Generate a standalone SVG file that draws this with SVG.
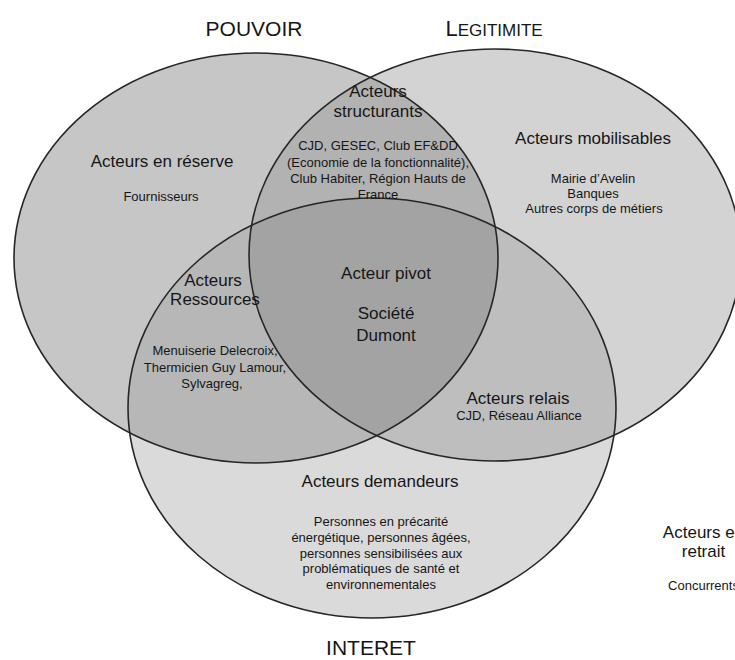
<svg xmlns="http://www.w3.org/2000/svg" xmlns:xlink="http://www.w3.org/1999/xlink" width="735" height="660" viewBox="0 0 735 660">
  <style>
    text { font-family: "Liberation Sans", Arial, sans-serif; fill: #161616; text-anchor: middle; }
    .head { font-size: 21px; }
    .lbl { font-size: 17px; }
    .sm { font-size: 13px; }
    .outline { fill: none; stroke: #262626; stroke-width: 1.6; }
  </style>
  <defs>
    <!-- the three sets -->
    <ellipse id="eL" cx="256" cy="258" rx="242" ry="205"/>
    <ellipse id="eR" cx="495" cy="255" rx="246" ry="206"/>
    <ellipse id="eB" cx="372" cy="408" rx="244" ry="210"/>
    <clipPath id="cL"><use xlink:href="#eL"/></clipPath>
    <clipPath id="cR"><use xlink:href="#eR"/></clipPath>
    <clipPath id="cB"><use xlink:href="#eB"/></clipPath>
  </defs>

  <rect width="735" height="660" fill="#ffffff"/>

  <!-- region fills -->
  <g id="fills">
    <use xlink:href="#eB" fill="#dadada"/>
    <use xlink:href="#eR" fill="#d3d3d3"/>
    <use xlink:href="#eL" fill="#c6c6c6"/>
    <use xlink:href="#eR" fill="#bebebe" clip-path="url(#cB)"/>
    <use xlink:href="#eL" fill="#b7b7b7" clip-path="url(#cB)"/>
    <use xlink:href="#eL" fill="#b2b2b2" clip-path="url(#cR)"/>
    <g clip-path="url(#cL)">
      <use xlink:href="#eR" fill="#a3a3a3" clip-path="url(#cB)"/>
    </g>
  </g>

  <!-- set outlines -->
  <g id="set-pouvoir"><use xlink:href="#eL" class="outline"/></g>
  <g id="set-legitimite"><use xlink:href="#eR" class="outline"/></g>
  <g id="set-interet"><use xlink:href="#eB" class="outline"/></g>

  <!-- set titles -->
  <g id="title-pouvoir"><text class="head" x="254" y="36">POUVOIR</text></g>
  <g id="title-legitimite"><text x="494" y="36"><tspan font-size="22">L</tspan><tspan font-size="17">EGITIMITE</tspan></text></g>
  <g id="title-interet"><text class="head" x="371" y="655" font-size="21.5">INTERET</text></g>

  <!-- region labels -->
  <g id="acteurs-structurants">
    <text class="lbl" x="378" y="97">Acteurs</text>
    <text class="lbl" x="378" y="117">structurants</text>
    <text class="sm" x="378" y="150">CJD, GESEC, Club EF&amp;DD</text>
    <text class="sm" x="378" y="167">(Economie de la fonctionnalité),</text>
    <text class="sm" x="378" y="183">Club Habiter, Région Hauts de</text>
    <text class="sm" x="378" y="199">France</text>
  </g>

  <g id="acteurs-reserve">
    <text class="lbl" x="162" y="167">Acteurs en réserve</text>
    <text class="sm" x="161" y="201">Fournisseurs</text>
  </g>

  <g id="acteurs-mobilisables">
    <text class="lbl" x="593" y="144">Acteurs mobilisables</text>
    <text class="sm" x="593" y="183">Mairie d’Avelin</text>
    <text class="sm" x="593" y="198">Banques</text>
    <text class="sm" x="594" y="213">Autres corps de métiers</text>
  </g>

  <g id="acteurs-ressources">
    <text class="lbl" x="213" y="286">Acteurs</text>
    <text class="lbl" x="215" y="305">Ressources</text>
    <text class="sm" x="215" y="355">Menuiserie Delecroix,</text>
    <text class="sm" x="215" y="372">Thermicien Guy Lamour,</text>
    <text class="sm" x="212" y="388">Sylvagreg,</text>
  </g>

  <g id="acteur-pivot">
    <text class="lbl" x="386" y="279">Acteur pivot</text>
    <text class="lbl" x="386" y="319">Société</text>
    <text class="lbl" x="386" y="341">Dumont</text>
  </g>

  <g id="acteurs-relais">
    <text class="lbl" x="518" y="404">Acteurs relais</text>
    <text class="sm" x="519" y="420">CJD, Réseau Alliance</text>
  </g>

  <g id="acteurs-demandeurs">
    <text class="lbl" x="380" y="487">Acteurs demandeurs</text>
    <text class="sm" x="381" y="526">Personnes en précarité</text>
    <text class="sm" x="381" y="542">énergétique, personnes âgées,</text>
    <text class="sm" x="381" y="558">personnes sensibilisées aux</text>
    <text class="sm" x="381" y="573">problématiques de santé et</text>
    <text class="sm" x="381" y="589">environnementales</text>
  </g>

  <g id="acteurs-retrait">
    <text class="lbl" x="703.5" y="538">Acteurs en</text>
    <text class="lbl" x="703.5" y="557">retrait</text>
    <text class="sm" x="703.5" y="590">Concurrents</text>
  </g>
</svg>
